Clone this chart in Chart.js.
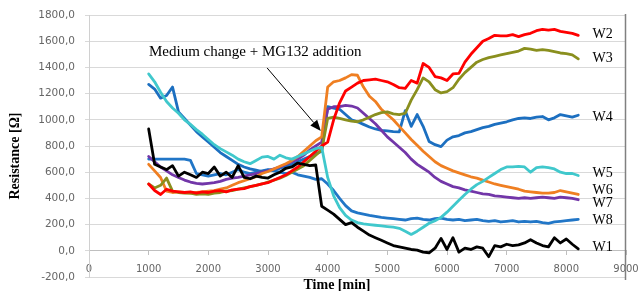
<!DOCTYPE html>
<html>
<head>
<meta charset="utf-8">
<script src="https://cdn.jsdelivr.net/npm/chart.js@4.4.1/dist/chart.umd.min.js"></script>
<style>
html,body{margin:0;padding:0;background:#fff;}
#wrap{width:639px;height:291px;}
</style>
</head>
<body>
<div id="wrap"><canvas id="c" width="639" height="291"></canvas></div>
<script>
// ---- DATA ----
const minutes = [1000,1100,1200,1300,1400,1500,1600,1700,1800,1900,2000,2100,2200,2300,2400,2500,2600,2700,2800,2900,
3000,3100,3200,3300,3400,3500,3600,3700,3800,3900,4000,4100,4200,4300,4400,4500,4600,4700,4800,4900,
5000,5100,5200,5300,5400,5500,5600,5700,5800,5900,6000,6100,6200,6300,6400,6500,6600,6700,6800,6900,
7000,7100,7200,7300,7400,7500,7600,7700,7800,7900,8000,8100,8200];

const seriesNames = ['W1','W2','W3','W4','W5','W6','W7','W8'];

const W1 = [930,660,640,620,650,570,600,580,560,600,590,640,570,600,560,650,560,550,570,560,
555,580,600,630,640,670,660,650,655,340,310,280,240,200,215,180,150,120,100,80,
60,40,30,20,10,5,-10,-15,20,95,10,100,-10,20,10,30,20,-45,40,30,
50,40,45,60,85,60,40,30,100,60,90,50,15];

const W2 = [510,460,430,470,455,450,445,450,440,450,445,455,460,450,465,470,475,490,500,510,
520,540,560,580,610,640,680,720,760,800,830,1000,1130,1220,1250,1280,1300,1305,1310,1300,
1290,1270,1245,1240,1300,1280,1430,1400,1330,1320,1300,1350,1355,1440,1500,1550,1600,1620,1645,1640,
1640,1650,1635,1650,1660,1680,1690,1685,1690,1675,1668,1660,1645];

const W3 = [510,480,500,555,455,445,440,440,430,435,430,440,445,455,460,470,480,490,500,510,
525,540,555,575,600,625,650,690,730,770,1010,1020,1010,1000,990,985,1000,1020,1040,1055,
1060,1045,1040,1050,1150,1230,1320,1290,1230,1205,1215,1245,1310,1360,1400,1440,1460,1475,1485,1495,
1505,1515,1525,1545,1540,1530,1535,1530,1520,1510,1505,1495,1465];

const W4 = [1270,1235,1165,1185,1250,1060,1010,960,910,870,830,790,750,720,690,660,640,625,615,605,
615,620,630,645,660,680,700,720,740,760,1100,1090,1080,1040,1000,985,965,945,930,920,
915,910,908,1070,950,1040,950,835,810,795,845,870,880,900,910,925,940,950,965,975,
985,1000,1010,1015,1010,1020,1025,1000,1015,1040,1030,1020,1035];

const W5 = [1350,1290,1210,1140,1090,1050,1000,965,925,890,850,810,780,755,730,700,680,665,690,715,
720,700,730,710,700,720,740,760,780,790,560,420,330,270,235,215,205,200,195,190,
185,180,172,150,125,150,180,210,230,255,295,340,385,430,470,505,530,560,590,620,
640,640,645,640,600,635,640,635,625,600,590,590,575];

const W6 = [660,610,560,455,445,450,445,440,445,450,455,460,470,480,500,520,535,550,565,590,
605,625,645,665,690,720,760,800,840,870,1250,1290,1300,1320,1345,1340,1250,1180,1140,1080,
1040,1000,950,900,850,805,760,720,680,650,630,610,595,580,565,555,540,525,510,500,
490,480,470,455,450,445,440,440,445,460,450,440,430];

const W7 = [720,680,640,610,580,560,540,525,515,510,515,520,530,545,555,560,570,580,590,600,
610,625,640,660,680,700,730,770,800,830,1080,1100,1100,1110,1105,1090,1050,1010,970,920,
870,830,790,750,700,660,630,600,560,530,510,490,480,465,455,445,435,430,420,415,
410,405,400,405,400,405,410,405,400,410,405,400,390];

const W8 = [700,700,700,700,700,700,700,690,590,580,570,580,590,580,600,620,600,590,600,610,
620,610,600,590,600,580,570,560,545,550,510,460,400,345,305,290,280,270,262,255,
250,245,240,235,245,250,240,235,245,250,240,235,240,230,235,240,230,225,230,220,
225,230,220,225,220,225,215,210,220,225,230,235,240];

const seriesColors = ['#000000','#ff0000','#8a8f1e','#1c6fc0','#40c8cc','#ef7f22','#7236a8','#2176c7'];

// label anchors (value on y axis) for the W labels at the right end
const labelValues = [30,1650,1470,1020,595,465,366,236];
const labelMinute = 8440;

// annotation (in data units)
const noteText = 'Medium change + MG132 addition';
const noteAt = {x: 1005, y: 1518};
const arrowFrom = {x: 2985, y: 1396};
const arrowTo = {x: 3886, y: 915};

const yTicks = [-200,0,200,400,600,800,1000,1200,1400,1600,1800];
const xTicks = [0,1000,2000,3000,4000,5000,6000,7000,8000,9000];

// ---- CHART ----
const allSeries = [W1,W2,W3,W4,W5,W6,W7,W8];
const drawOrder = [0,4,1,2,5,6,3,7];
const datasets = allSeries.map((vals,i)=>({
  label: seriesNames[i],
  data: vals.map((v,k)=>({x: minutes[k], y: v})),
  borderColor: seriesColors[i],
  backgroundColor: seriesColors[i],
  borderWidth: 2.8,
  pointRadius: 0,
  tension: 0,
  borderJoinStyle: 'round',
  borderCapStyle: 'round',
  fill: false,
  order: drawOrder.indexOf(i)
}));

const textPlugin = {
  id: 'texts',
  afterDraw(chart){
    const ctx = chart.ctx;
    const xs = chart.scales.x, ys = chart.scales.y;
    const ca = chart.chartArea;
    ctx.save();
    // right frame
    ctx.strokeStyle = '#808080';
    ctx.lineWidth = 1.5;
    ctx.beginPath();
    ctx.moveTo(ca.right - 0.5, ca.top - 1);
    ctx.lineTo(ca.right - 0.5, ca.bottom + 3);
    ctx.stroke();

    // series labels
    ctx.fillStyle = '#000';
    ctx.font = '14px "Liberation Serif", "Times New Roman", serif';
    ctx.textAlign = 'left';
    ctx.textBaseline = 'middle';
    seriesNames.forEach((n,i)=>{
      ctx.fillText(n, xs.getPixelForValue(labelMinute), ys.getPixelForValue(labelValues[i]));
    });

    // annotation
    ctx.font = '15px "Liberation Serif", "Times New Roman", serif';
    ctx.fillText(noteText, xs.getPixelForValue(noteAt.x), ys.getPixelForValue(noteAt.y));
    const x1 = xs.getPixelForValue(arrowFrom.x), y1 = ys.getPixelForValue(arrowFrom.y);
    const x2 = xs.getPixelForValue(arrowTo.x), y2 = ys.getPixelForValue(arrowTo.y);
    const ang = Math.atan2(y2 - y1, x2 - x1);
    const hl = 11, hw = 4.5;
    const bx = x2 - hl*Math.cos(ang), by = y2 - hl*Math.sin(ang);
    ctx.strokeStyle = '#000';
    ctx.lineWidth = 1;
    ctx.beginPath();
    ctx.moveTo(x1, y1);
    ctx.lineTo(bx, by);
    ctx.stroke();
    ctx.beginPath();
    ctx.moveTo(x2, y2);
    ctx.lineTo(bx + hw*Math.sin(ang), by - hw*Math.cos(ang));
    ctx.lineTo(bx - hw*Math.sin(ang), by + hw*Math.cos(ang));
    ctx.closePath();
    ctx.fill();

    // axis titles
    ctx.font = 'bold 14px "Liberation Serif", "Times New Roman", serif';
    ctx.textAlign = 'center';
    ctx.fillText('Time [min]', 337, 285);
    ctx.translate(15, 156);
    ctx.rotate(-Math.PI/2);
    ctx.fillText('Resistance [\u03A9]', 0, 0);
    ctx.restore();
  }
};

const xTickFont = {family: '"DejaVu Sans", sans-serif', size: 10};
const yTickFont = {family: '"DejaVu Sans", sans-serif', size: 10.5};

new Chart(document.getElementById('c'), {
  type: 'line',
  data: {datasets},
  options: {
    responsive: false,
    animation: false,
    devicePixelRatio: 1,
    layout: {padding: {top: 15, right: 13, bottom: 14, left: 0}},
    plugins: {legend: {display: false}, tooltip: {enabled: false}},
    scales: {
      x: {
        type: 'linear', min: 0, max: 9000,
        position: {y: 0},
        afterBuildTicks(s){ s.ticks = xTicks.map(v=>({value:v})); },
        afterFit(s){ s.paddingLeft = 0; s.paddingRight = 0; s.paddingTop = 0; s.paddingBottom = 0; },
        ticks: {font: xTickFont, color: '#666', padding: 9, maxRotation: 0, autoSkip: false,
                callback: v => String(v)},
        grid: {drawOnChartArea: false, drawTicks: true, tickLength: 4, color: '#bfbfbf'},
        border: {display: true, color: '#bfbfbf'}
      },
      y: {
        min: -200, max: 1800,
        afterBuildTicks(s){ s.ticks = yTicks.map(v=>({value:v})); },
        afterFit(s){ s.width = 89; s.paddingTop = 0; s.paddingBottom = 0; s.paddingLeft = 0; s.paddingRight = 0; },
        ticks: {font: yTickFont, color: '#666', padding: 10,
                callback: v => Number(v).toFixed(1).replace('.', ',')},
        grid: {color: '#d9d9d9', tickLength: 4},
        border: {display: true, color: '#d0d0d0'}
      }
    }
  },
  plugins: [textPlugin]
});
</script>
</body>
</html>
